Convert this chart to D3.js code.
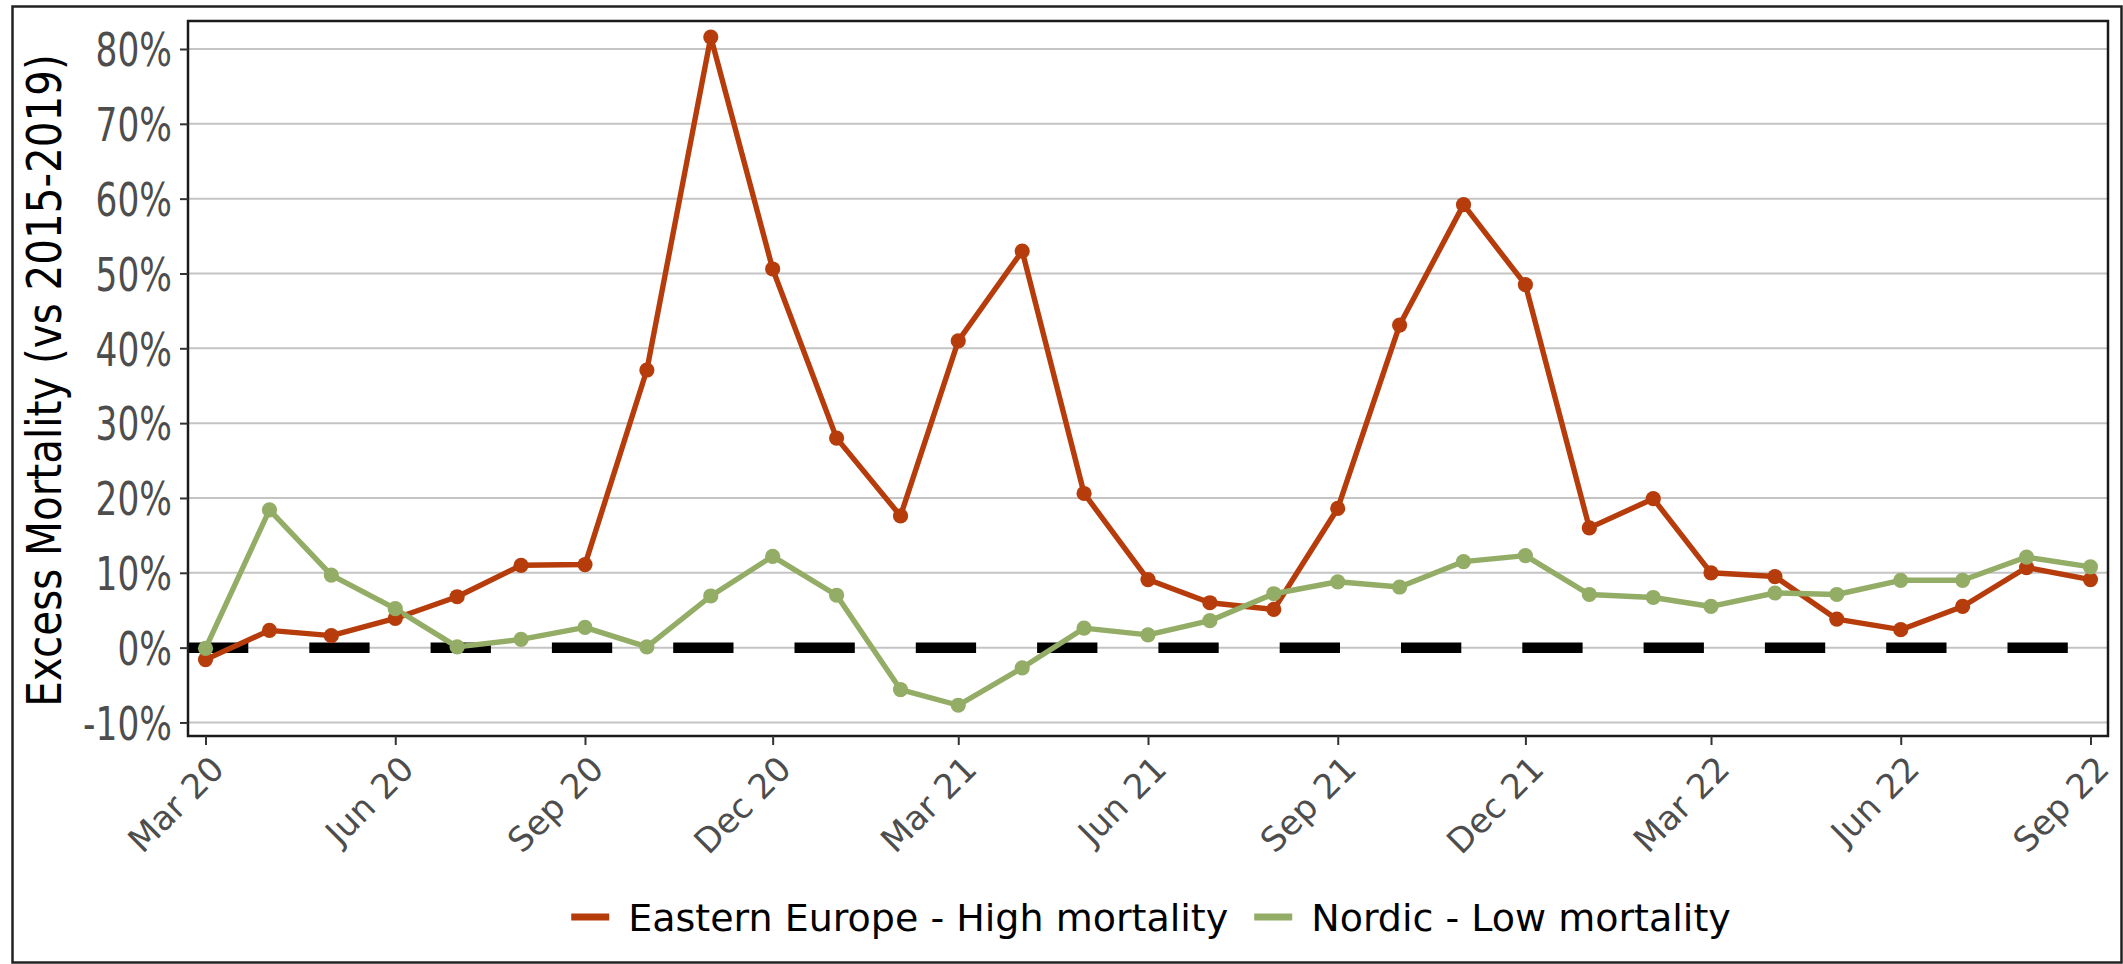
<!DOCTYPE html>
<html>
<head>
<meta charset="utf-8">
<script src="https://cdn.jsdelivr.net/npm/d3@7"></script>
<style>
  body { margin: 0; background: #fff; }
  svg { display: block; font-family: "DejaVu Sans", sans-serif; }
</style>
</head>
<body>
<svg id="chart"></svg>
<script>
// Data: monthly excess mortality (%), Mar 2020 - Sep 2022.
var months = ["2020-03", "2020-04", "2020-05", "2020-06", "2020-07", "2020-08", "2020-09",
              "2020-10", "2020-11", "2020-12", "2021-01", "2021-02", "2021-03", "2021-04",
              "2021-05", "2021-06", "2021-07", "2021-08", "2021-09", "2021-10", "2021-11",
              "2021-12", "2022-01", "2022-02", "2022-03", "2022-04", "2022-05", "2022-06",
              "2022-07", "2022-08", "2022-09"];
var eastern = [-1.6, 2.3, 1.6, 3.9, 6.8, 11.0, 11.1, 37.1, 81.6, 50.6, 28.0, 17.6, 41.0, 53.0,
               20.6, 9.1, 6.0, 5.1, 18.6, 43.1, 59.2, 48.5, 16.0, 19.9, 10.0, 9.5, 3.8, 2.4,
               5.5, 10.7, 9.1];
var nordic = [-0.1, 18.4, 9.7, 5.2, 0.1, 1.1, 2.7, 0.1, 6.9, 12.2, 7.0, -5.6, -7.7, -2.7,
              2.6, 1.7, 3.6, 7.2, 8.8, 8.1, 11.5, 12.3, 7.1, 6.7, 5.5, 7.3, 7.1, 9.0,
              9.0, 12.1, 10.8];
var seriesNames = ["Eastern Europe - High mortality", "Nordic - Low mortality"];
var seriesColors = ["#b63d0b", "#93ad66"];
var xTickMonths = ["2020-03", "2020-06", "2020-09", "2020-12", "2021-03", "2021-06",
                   "2021-09", "2021-12", "2022-03", "2022-06", "2022-09"];
var yTicks = [-10, 0, 10, 20, 30, 40, 50, 60, 70, 80];

var chart = {};
chart.draw = function() {
    const W = 2123, H = 964;
    const margin = { top: 21, right: 15, bottom: 228, left: 188 };
    const width = W - margin.left - margin.right;
    const height = H - margin.top - margin.bottom;

    const parse = d3.timeParse("%Y-%m");
    const dates = months.map(parse);
    const pad = 8.5 * 864e5;

    var xScale = d3.scaleTime()
        .domain([new Date(dates[0].getTime() - pad), new Date(dates[dates.length - 1].getTime() + pad)])
        .range([0, width]);
    var yScale = d3.scaleLinear()
        .domain([-11.81, 83.74])
        .range([height, 0]);

    var svg = d3.select("#chart").attr("width", W).attr("height", H);

    // outer frame
    svg.append("rect")
        .attr("x", 12.5).attr("y", 6.5)
        .attr("width", 2109).attr("height", 956)
        .attr("fill", "none").attr("stroke", "#222").attr("stroke-width", 2.5);

    var g = svg.append("g")
        .attr("transform", "translate(" + margin.left + "," + margin.top + ")");

    // grid
    g.append("g").selectAll("line")
        .data(yTicks)
        .enter().append("line")
        .attr("x1", 0).attr("x2", width)
        .attr("y1", d => yScale(d)).attr("y2", d => yScale(d))
        .attr("stroke", "#c4c4c4").attr("stroke-width", 2);

    // zero reference line
    g.append("line")
        .attr("x1", 0).attr("x2", width)
        .attr("y1", yScale(0)).attr("y2", yScale(0))
        .attr("stroke", "#000").attr("stroke-width", 10.5)
        .attr("stroke-dasharray", "60.3,61");

    var series = [eastern, nordic].map((vals, i) => ({
        name: seriesNames[i],
        color: seriesColors[i],
        values: vals.map((v, j) => ({ date: dates[j], value: v }))
    }));

    var line = d3.line()
        .x(d => xScale(d.date))
        .y(d => yScale(d.value));

    g.append("g").selectAll("path")
        .data(series)
        .enter().append("path")
        .attr("d", d => line(d.values))
        .attr("fill", "none")
        .attr("stroke", d => d.color)
        .attr("stroke-width", 5.4)
        .attr("stroke-linejoin", "round");

    series.forEach(s => {
        g.append("g").selectAll("circle")
            .data(s.values)
            .enter().append("circle")
            .attr("cx", d => xScale(d.date))
            .attr("cy", d => yScale(d.value))
            .attr("r", 7.6)
            .attr("fill", s.color);
    });

    // panel border
    g.append("rect")
        .attr("width", width).attr("height", height)
        .attr("fill", "none").attr("stroke", "#1a1a1a").attr("stroke-width", 2.5);

    // y axis
    var yAxis = g.append("g")
        .call(d3.axisLeft(yScale).tickValues(yTicks).tickSize(8).tickPadding(8)
            .tickFormat(d => d + "%"));
    yAxis.select(".domain").remove();
    yAxis.selectAll(".tick line").attr("stroke", "#333").attr("stroke-width", 2);
    yAxis.selectAll(".tick text")
        .attr("font-size", 46.5)
        .attr("font-family", "DejaVu Sans")
        .attr("fill", "#4d4d4d")
        .attr("x", -16 / 0.74)
        .attr("dy", "0.36em")
        .attr("transform", "scale(0.74,1)");

    // x axis
    var xAxis = g.append("g")
        .attr("transform", "translate(0," + height + ")")
        .call(d3.axisBottom(xScale).tickValues(xTickMonths.map(parse)).tickSize(9)
            .tickFormat(d3.timeFormat("%b %y")));
    xAxis.select(".domain").remove();
    xAxis.selectAll(".tick line").attr("stroke", "#333").attr("stroke-width", 2);
    xAxis.selectAll(".tick text")
        .attr("font-size", 34)
        .attr("font-family", "DejaVu Sans")
        .attr("fill", "#4d4d4d")
        .attr("x", 0).attr("y", 0).attr("dy", 0)
        .attr("text-anchor", "end")
        .attr("transform", "translate(20,35) rotate(-45)");

    // y title
    svg.append("text")
        .attr("transform", "translate(61," + (margin.top + height / 2 + 2) + ") rotate(-90) scale(0.83,1)")
        .attr("text-anchor", "middle")
        .attr("font-size", 48.7)
        .attr("fill", "#000")
        .text("Excess Mortality (vs 2015-2019)");

    // legend
    var legend = svg.append("g").attr("transform", "translate(0,917)");
    var keyW = 38, keyGap = 19, itemGap = 26;
    var items = legend.selectAll("g")
        .data(series)
        .enter().append("g");
    items.append("line")
        .attr("x1", 0).attr("x2", keyW)
        .attr("stroke", d => d.color).attr("stroke-width", 7);
    items.append("text")
        .attr("x", keyW + keyGap)
        .attr("y", 14)
        .attr("font-size", 38)
        .attr("fill", "#000")
        .text(d => d.name);
    var widths = [];
    items.each(function() { widths.push(keyW + keyGap + d3.select(this).select("text").node().getComputedTextLength()); });
    var total = d3.sum(widths) + itemGap * (widths.length - 1);
    var cx = margin.left + width / 2 + 3;
    var pos = cx - total / 2;
    items.attr("transform", (d, i) => {
        var p = pos;
        pos += widths[i] + itemGap;
        return "translate(" + p + ",0)";
    });
}
chart.draw();
</script>
</body>
</html>
